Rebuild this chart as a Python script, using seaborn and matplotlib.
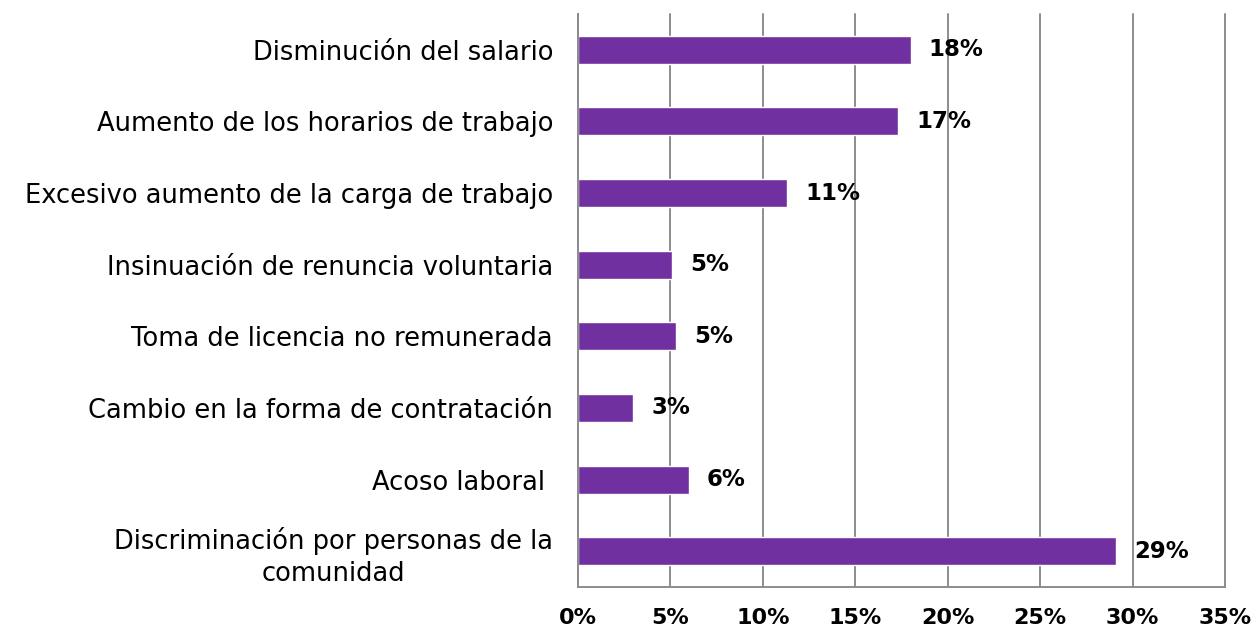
#%% packages
import numpy as np
import pandas as pd
import seaborn as sns
import matplotlib.pyplot as plt
from matplotlib.ticker import MultipleLocator, FuncFormatter

#%% data
categorias = [
    "Disminución del salario",
    "Aumento de los horarios de trabajo",
    "Excesivo aumento de la carga de trabajo",
    "Insinuación de renuncia voluntaria",
    "Toma de licencia no remunerada",
    "Cambio en la forma de contratación",
    "Acoso laboral ",
    "Discriminación por personas de la\ncomunidad",
]
valores = [18.0, 17.3, 11.3, 5.1, 5.3, 3.0, 6.0, 29.1]
etiquetas = ["18%", "17%", "11%", "5%", "5%", "3%", "6%", "29%"]

df = pd.DataFrame({"categoria": categorias, "valor": valores})

#%% plot
sns.set_style("white")
plt.rcParams["font.family"] = ["DejaVu Sans"]
plt.rcParams["text.color"] = "black"
plt.rcParams["xtick.color"] = "black"
plt.rcParams["ytick.color"] = "black"

fig = plt.figure(figsize=(12.53, 6.34), dpi=100)
ax = fig.add_axes([0.4613, 0.0741, 0.5164, 0.9038])

sns.barplot(data=df, x="valor", y="categoria", color="#7030A0",
            saturation=1, width=0.39, ax=ax)

ax.set_xlim(0, 35)
ax.xaxis.set_major_locator(MultipleLocator(5))
ax.xaxis.set_major_formatter(FuncFormatter(lambda v, p: f"{v:.0f}%"))
ax.grid(axis="x", color="#8c8c8c", linewidth=1.4)
ax.set_axisbelow(True)
for gl in ax.get_xgridlines():
    gl.set_clip_on(False)

for s in ["top", "right"]:
    ax.spines[s].set_visible(False)
for s in ["left", "bottom"]:
    ax.spines[s].set_color("#8c8c8c")
    ax.spines[s].set_linewidth(1.4)

ax.tick_params(axis="x", length=0, pad=15, labelsize=16, labelcolor="black")
ax.tick_params(axis="y", length=0, pad=18, labelsize=18.5, labelcolor="black")
for t in ax.get_xticklabels():
    t.set_fontweight("bold")
for t in ax.get_yticklabels():
    t.set_multialignment("center")
    t.set_linespacing(1.3)

ax.bar_label(ax.containers[0], labels=etiquetas, padding=13,
             fontsize=16.5, fontweight="bold", color="black")

ax.set_xlabel("")
ax.set_ylabel("")

fig.savefig("out.png", dpi=100)
